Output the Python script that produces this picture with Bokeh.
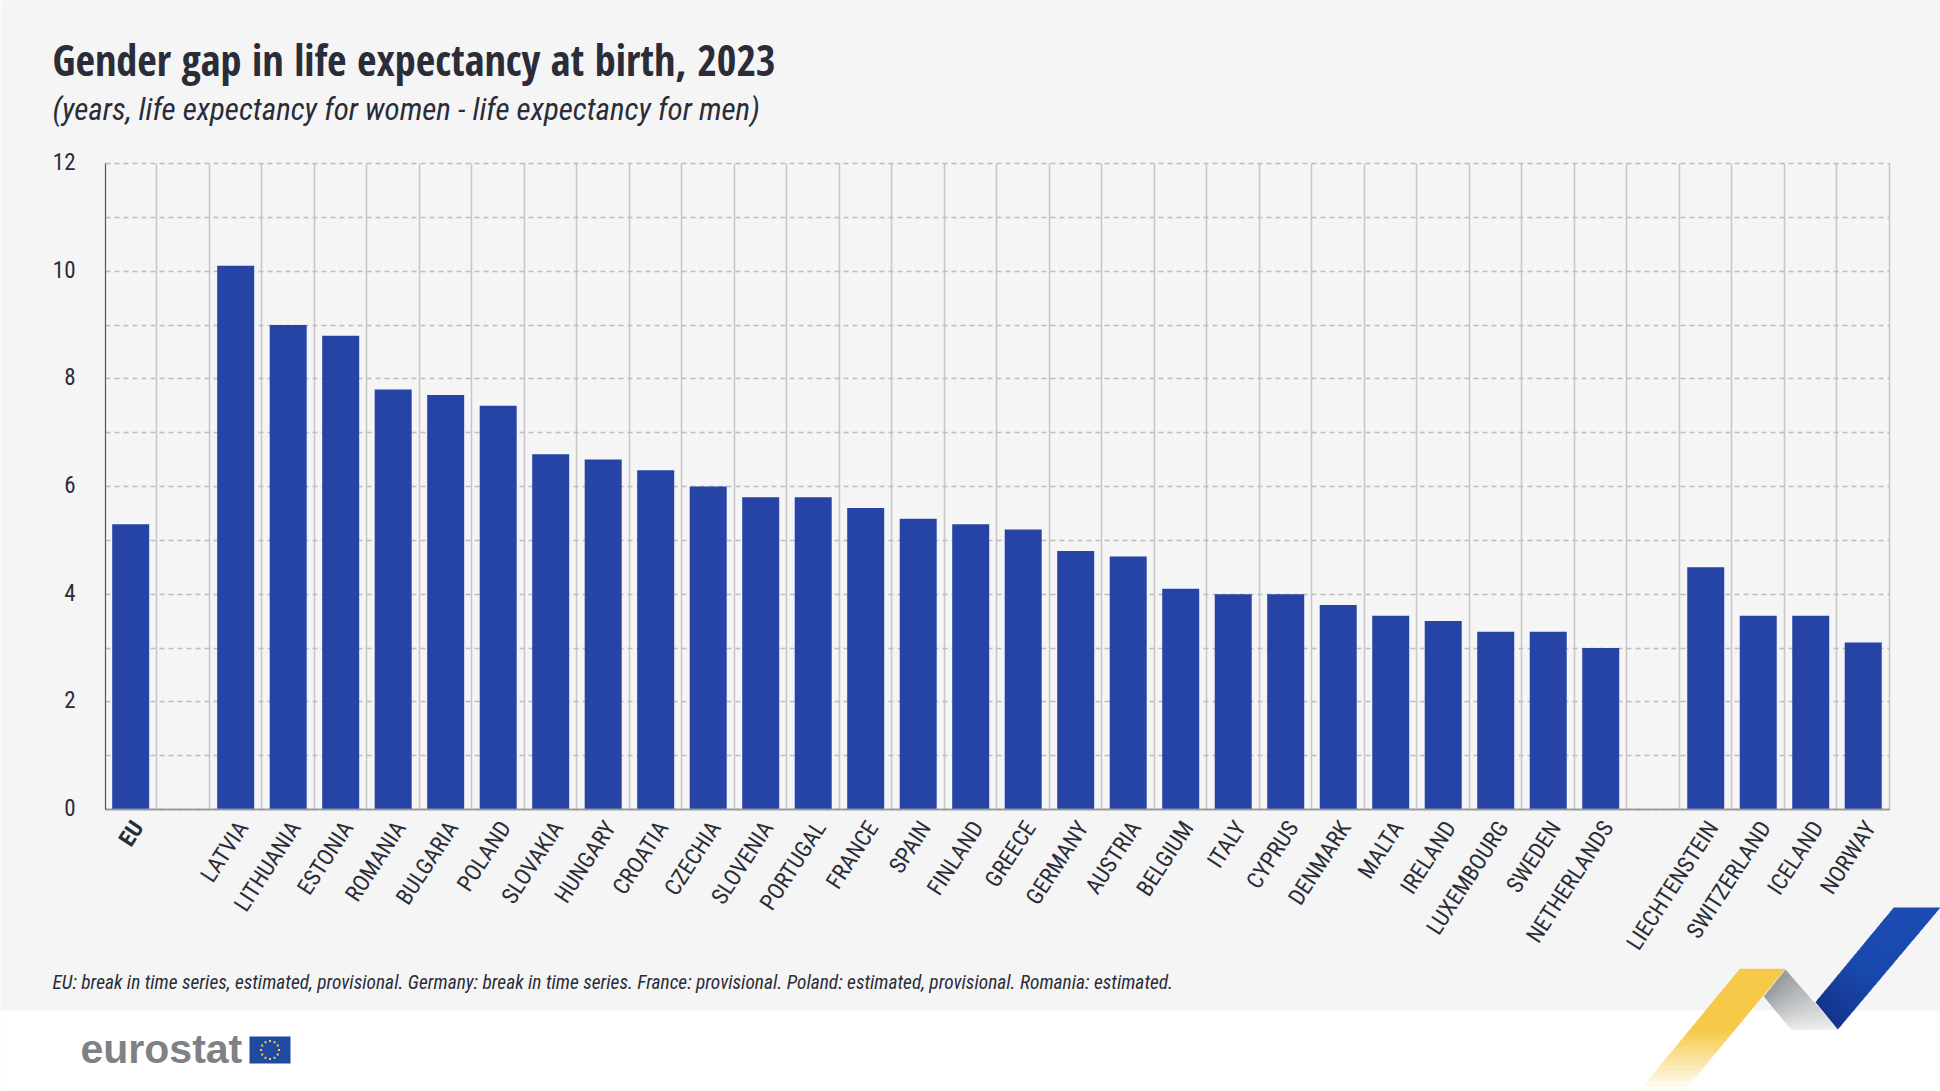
import math
from bokeh.embed import file_html
from bokeh.models import (BoxAnnotation, FixedTicker, Grid, Label, LinearAxis,
                          PolyAnnotation, Range1d, ColumnDataSource)
from bokeh.plotting import figure
from bokeh.resources import INLINE

TITLE = "Gender gap in life expectancy at birth, 2023"
SUBTITLE = "(years, life expectancy for women - life expectancy for men)"
FOOTNOTE = ("EU: break in time series, estimated, provisional. Germany: break in time series. "
            "France: provisional. Poland: estimated, provisional. Romania: estimated.")
categories = ["EU", "", "LATVIA", "LITHUANIA", "ESTONIA", "ROMANIA", "BULGARIA", "POLAND", "SLOVAKIA",
              "HUNGARY", "CROATIA", "CZECHIA", "SLOVENIA", "PORTUGAL", "FRANCE", "SPAIN", "FINLAND",
              "GREECE", "GERMANY", "AUSTRIA", "BELGIUM", "ITALY", "CYPRUS", "DENMARK", "MALTA",
              "IRELAND", "LUXEMBOURG", "SWEDEN", "NETHERLANDS", "", "LIECHTENSTEIN", "SWITZERLAND",
              "ICELAND", "NORWAY"]
values = [5.3, None, 10.1, 9.0, 8.8, 7.8, 7.7, 7.5, 6.6, 6.5, 6.3, 6.0, 5.8, 5.8, 5.6, 5.4, 5.3,
          5.2, 4.8, 4.7, 4.1, 4.0, 4.0, 3.8, 3.6, 3.5, 3.3, 3.3, 3.0, None, 4.5, 3.6, 3.6, 3.1]
y_tick_labels = [0, 2, 4, 6, 8, 10, 12]
y_grid_steps = list(range(13))

BG = "#f5f5f6"
FONT = "Roboto Condensed"
TITLE_FONT = "Open Sans Condensed"
INK = "#2a2d38"
W, H = 1940, 1091
FL, FR, FT, FB = 105, 1889, 163, 809  # plot area in page pixels
N, YMAX = len(categories), 12
kx, ky = N / (FR - FL), YMAX / (FB - FT)

# The frame fills the whole page, so that the decorations around the chart are not clipped.
p = figure(width=W, height=H, output_backend="svg", toolbar_location=None,
           x_range=Range1d(-FL * kx, N + (W - FR) * kx), y_range=Range1d(-(H - FB) * ky, YMAX + FT * ky),
           min_border=0, background_fill_color=BG, border_fill_color=BG, outline_line_color=None)
p.grid.visible = False


def text(t, x, y, size, style="normal", color=INK, font=FONT):
    p.add_layout(Label(x=x, y=H - y, x_units="screen", y_units="screen", text=t, text_font=font,
                       text_font_size=size, text_font_style=style, text_color=color,
                       text_baseline="alphabetic"))


def box(l, r, t, b, color, level="annotation"):
    p.add_layout(BoxAnnotation(left=l, right=r, top=H - t, bottom=H - b, left_units="screen",
                               right_units="screen", top_units="screen", bottom_units="screen",
                               fill_color=color, fill_alpha=1, line_color=None, level=level))


def mix(c1, c2, f):
    return "#" + "".join(f"{round(a + (b - a) * f):02x}" for a, b in zip(c1, c2))


def strip(a, b, c, d, stops, n=24):
    """Quad a-b (start edge) to d-c (end edge), painted as n slices along the colour stops."""
    lerp = lambda u, v, f: (u[0] + (v[0] - u[0]) * f, u[1] + (v[1] - u[1]) * f)
    for i in range(n):
        f0, f1 = i / n, min(1, (i + 1.25) / n)
        pts = [lerp(a, d, f0), lerp(b, c, f0), lerp(b, c, f1), lerp(a, d, f1)]
        g = (i + 0.5) / n
        for (s0, c0), (s1, c1) in zip(stops, stops[1:]):
            if s0 <= g <= s1:
                col = mix(c0, c1, (g - s0) / (s1 - s0))
                break
        p.add_layout(PolyAnnotation(xs=[q[0] for q in pts], ys=[H - q[1] for q in pts], xs_units="screen",
                                    ys_units="screen", fill_color=col, fill_alpha=1, line_color=None))


# white footer band first, under everything else
box(0, W, 1010, H, "#ffffff", level="underlay")

SLOT = 0.02  # the slots start very slightly left of the y axis line
p.add_layout(Grid(dimension=0, ticker=FixedTicker(ticks=[i - SLOT * (1 - i / N) for i in range(1, N + 1)]),
                  cross_bounds=(0, YMAX), grid_line_color="#c6c6c6", grid_line_width=1.5))
p.add_layout(Grid(dimension=1, ticker=FixedTicker(ticks=y_grid_steps), cross_bounds=(0, N),
                  grid_line_color="#bdbdbd", grid_line_width=1.3, grid_line_dash=[5, 4]))

pos = [i + 0.5 - SLOT * (1 - i / N) for i in range(N)]
bars = [(x, v) for x, v in zip(pos, values) if v is not None]
src = ColumnDataSource(dict(x=[b[0] for b in bars], top=[b[1] for b in bars]))
p.vbar(x="x", top="top", bottom=0, width=0.705, source=src, fill_color="#2643a6", line_color=None)

DX = 0.14  # labels end to the right of their bar's centre


def style_x(axis, names, weight):
    ticks = {x + DX: c for x, c in zip(pos, categories) if c in names}
    axis.ticker = FixedTicker(ticks=list(ticks))
    axis.major_label_overrides = ticks
    axis.major_label_orientation = math.radians(57)
    axis.major_label_text_font = FONT
    axis.major_label_text_font_size = "23px"
    axis.major_label_text_font_style = weight
    axis.major_label_text_color = INK
    axis.major_label_standoff = 8
    axis.major_tick_line_color = None
    axis.minor_tick_line_color = None
    axis.axis_line_color = "#9a9a9a"
    axis.axis_line_width = 1.5
    axis.fixed_location = 0
    axis.bounds = (0, N)


style_x(p.xaxis[0], [c for c in categories if c and c != "EU"], "normal")
eu_axis = LinearAxis()
p.add_layout(eu_axis, "below")
style_x(eu_axis, ["EU"], "bold")

DY = 0.04  # labels sit slightly above their grid line
ay = p.yaxis[0]
ay.ticker = FixedTicker(ticks=[v + DY for v in y_tick_labels])
ay.major_label_overrides = {v + DY: str(v) for v in y_tick_labels}
ay.fixed_location = 0
ay.bounds = (0, YMAX)
ay.major_label_text_font = FONT
ay.major_label_text_font_size = "23px"
ay.major_label_text_color = INK
ay.major_label_standoff = 24
ay.major_tick_line_color = None
ay.minor_tick_line_color = None
ay.axis_line_color = "#555555"
ay.axis_line_width = 1.2

text(TITLE, 52, 58.5, "42.3px", "bold", font=TITLE_FONT)
text(SUBTITLE, 52, 109, "31px", "italic")
text(FOOTNOTE, 52, 982, "19.4px", "italic")

# eurostat logo
text("eurostat", 80, 1048, "41px", "bold", "#7f8184", "Liberation Sans")
box(249, 290, 1036, 1063, "#1f4aa0")
for k in range(12):
    cx = 269.5 + 9 * math.cos(k * math.pi / 6)
    cy = 1049.5 + 9 * math.sin(k * math.pi / 6)
    box(cx - 1, cx + 1, cy - 1, cy + 1, "#f3d24a")

# ribbon
YEL, FADE = (247, 201, 72), (255, 255, 255)
strip((1739.3, 968.3), (1785, 968.3), (1683.3, 1091), (1638.3, 1091),
      [(0, YEL), (0.5, YEL), (1, FADE)])
strip((1785, 969), (1763.3, 996), (1791, 1029.7), (1837.3, 1029),
      [(0, (150, 153, 157)), (0.5, (196, 198, 200)), (1, (238, 239, 240))])
strip((1893.3, 907), (1940, 907), (1837.3, 1029), (1815, 1001.7),
      [(0, (27, 76, 181)), (0.6, (25, 72, 172)), (1, (20, 52, 140))])

open("out.html", "w").write(file_html(p, INLINE))
